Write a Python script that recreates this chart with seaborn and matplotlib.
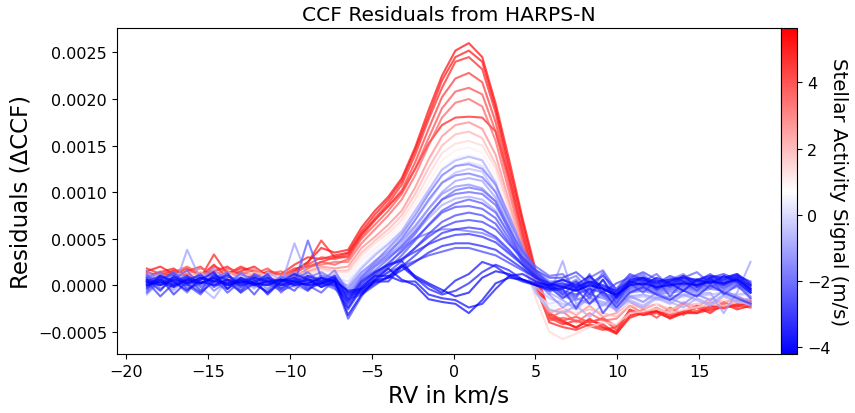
import numpy as np
import pandas as pd
import matplotlib
matplotlib.use("Agg")
import matplotlib.pyplot as plt
import seaborn as sns

# RV grid of the CCF (km/s)
rv = [-18.75, -17.93, -17.11, -16.29, -15.47, -14.65, -13.83, -13.01, -12.19, -11.37,
      -10.55, -9.73, -8.91, -8.09, -7.27, -6.45, -5.63, -4.81, -3.99, -3.17,
      -2.35, -1.53, -0.71, 0.11, 0.93, 1.75, 2.57, 3.39, 4.21, 5.03,
      5.85, 6.67, 7.49, 8.31, 9.13, 9.95, 10.77, 11.59, 12.41, 13.23,
      14.05, 14.87, 15.69, 16.51, 17.33, 18.15]

# stellar activity signal of each observation (m/s)
activity = [5.5, 5.3, 5.0, 4.6, 4.2, 3.8, 5.1, 3.0, 2.2, 1.5, 1.0, 0.5,
            0.0, -0.6, -1.2, -1.8, -2.2, -2.6, -3.0, -3.3, -3.6, -3.9, -4.1, -4.2,
            -2.0, -2.4, -2.8, -3.1, -3.4, -1.5, -0.9, -3.7, -4.0, -2.0, -2.9, -1.0]

# CCF residuals, in units of 1e-5
res_a = [15, 20, 12, 18, 10, 22, 8, 15, 20, 10, 5, 15, 25, 40, 35,
         38, 62, 80, 95, 115, 148, 188, 225, 252, 260, 245, 195, 135, 72, 15, -30,
         -38, -46, -36, -45, -50, -26, -32, -28, -36, -30, -24, -30, -20, -26, -22]
res_b = [10, 14, 18, 8, 12, 15, 20, 10, 8, 15, 12, 22, 30, 28, 32,
         35, 58, 76, 92, 112, 145, 182, 220, 245, 252, 240, 190, 128, 68, 10, -32,
         -40, -45, -38, -42, -52, -35, -30, -28, -34, -30, -30, -26, -24, -22, -18]
res_c = [18, 12, 10, 15, 20, 8, 12, 18, 15, 8, 10, 18, 20, 25, 30,
         30, 55, 72, 88, 108, 140, 178, 212, 240, 245, 232, 185, 122, 62, 5, -35,
         -42, -38, -44, -48, -45, -28, -32, -30, -35, -28, -30, -22, -25, -20, -22]
res_d = [5, 12, 15, 10, 8, 20, 15, 10, 12, 18, 8, 12, 22, 30, 28,
         32, 52, 70, 85, 102, 132, 168, 202, 222, 228, 218, 175, 115, 55, 0, -35,
         -38, -34, -40, -36, -48, -34, -26, -35, -24, -32, -22, -28, -18, -24, -16]
res_e = [12, 8, 14, 20, 12, 10, 18, 14, 10, 12, 15, 8, 18, 25, 22,
         28, 50, 65, 80, 98, 125, 158, 190, 208, 212, 205, 165, 108, 50, -2, -38,
         -35, -38, -40, -35, -44, -28, -30, -25, -30, -28, -22, -25, -22, -18, -20]
res_f = [8, 15, 10, 12, 18, 14, 8, 12, 16, 10, 12, 14, 20, 22, 25,
         25, 45, 60, 75, 92, 118, 150, 180, 196, 200, 192, 155, 100, 45, -5, -35,
         -28, -40, -30, -38, -36, -22, -30, -24, -32, -20, -28, -18, -24, -16, -20]
res_g = [14, 10, 16, 12, 8, 33, 12, 20, 14, 12, 8, 16, 24, 48, 30,
         34, 55, 70, 85, 100, 125, 152, 172, 180, 181, 180, 165, 115, 55, 0, -40,
         -45, -48, -42, -46, -52, -32, -30, -28, -32, -30, -28, -24, -20, -22, -24]
res_h = [10, 5, 12, 8, 14, 10, 6, 12, 18, 8, 10, 12, 15, 20, 18,
         20, 40, 52, 65, 80, 105, 135, 160, 172, 175, 168, 140, 90, 40, -5, -30,
         -24, -32, -22, -34, -30, -18, -26, -20, -28, -18, -24, -14, -20, -12, -18]
res_i = [8, 12, 6, 10, 12, 8, 14, 10, 12, 6, 8, 12, 14, 18, 15,
         16, 35, 48, 60, 75, 98, 126, 150, 162, 165, 158, 130, 85, 35, -8, -28,
         -28, -30, -26, -30, -34, -22, -24, -20, -26, -22, -20, -18, -16, -18, -14]
res_j = [12, 6, 10, 14, 8, 12, 10, 8, 14, 10, 6, 10, 12, 16, 14,
         14, 32, 45, 56, 70, 92, 118, 142, 152, 155, 150, 125, 80, 30, -15, -50,
         -58, -52, -45, -40, -42, -30, -28, -25, -30, -26, -24, -20, -22, -18, -20]
res_k = [5, 10, 8, 4, 12, 6, 10, 8, 6, 12, 8, 6, 10, 14, 12,
         10, 28, 40, 52, 66, 86, 110, 134, 145, 148, 142, 118, 75, 28, -10, -25,
         -20, -30, -16, -26, -24, -14, -20, -12, -22, -14, -18, -10, -16, -8, -14]
res_l = [6, 2, 10, 8, 4, 10, 12, 6, 4, 8, 10, 6, 8, 12, 10,
         8, 25, 38, 48, 62, 82, 104, 126, 137, 140, 135, 112, 70, 25, -10, -22,
         -24, -26, -20, -24, -28, -18, -16, -20, -18, -16, -15, -14, -12, -10, -12]
res_m = [4, 8, 2, 6, 10, 4, 6, 10, 2, 6, 4, 8, 6, 10, 8,
         4, 20, 34, 45, 58, 78, 98, 118, 128, 132, 128, 106, 66, 22, -10, -20,
         -16, -26, -12, -22, -20, -10, -18, -8, -16, -12, -10, -16, -6, -12, -8]
res_n = [2, 6, 0, 4, 8, 2, 4, 6, 0, 4, 2, 6, 4, 8, 6,
         -5, 12, 26, 38, 52, 70, 90, 110, 121, 125, 122, 100, 62, 24, -2, -14,
         -20, -22, -16, -20, -24, -14, -12, -16, -14, -12, -12, -10, -8, -10, -8]
res_o = [0, 4, -4, 38, 6, 2, 0, 4, -2, 2, 0, 45, 8, 6, 4,
         -12, 5, 20, 32, 45, 62, 82, 100, 112, 115, 112, 94, 62, 28, 4, -10,
         26, -20, -14, -18, -22, -12, -10, -14, -12, -10, -10, -8, -30, -8, 25]
res_p = [6, 2, 8, 4, 0, 6, 10, 4, 2, 8, 4, 2, 6, 4, 2,
         -15, 8, 25, 40, 55, 75, 98, 118, 128, 130, 125, 108, 75, 40, 15, 0,
         -12, -16, -10, -14, -20, -8, -6, -10, -8, -6, -8, -4, -6, -2, -8]
res_q = [10, 4, 8, 2, 6, 12, 4, 0, 6, 2, 8, 4, 0, 10, 8,
         -20, -2, 12, 22, 38, 55, 75, 92, 102, 105, 102, 90, 62, 34, 14, 2,
         -10, -14, 8, -12, -18, -6, -4, -8, -6, -4, -6, -2, -4, 0, -6]
res_r = [2, 8, 0, 6, 10, 0, 4, 8, 2, 0, 6, 2, 48, 8, 4,
         -8, -5, 8, 18, 32, 48, 65, 80, 88, 92, 88, 78, 55, 30, 12, 0,
         -8, -12, 12, -10, -16, -4, -2, -6, -4, -2, -4, 0, -2, 2, -8]
res_s = [8, 0, 4, 10, 2, 6, 0, 4, 8, 2, 4, 8, 2, 0, 6,
         -12, -8, 4, 14, 26, 40, 55, 68, 75, 78, 75, 66, 46, 26, 10, -2,
         -6, -10, -4, -8, -14, -2, 0, -4, -2, 0, -2, 2, 0, 4, -6]
res_t = [4, 10, 2, 0, 8, 4, 10, 2, 0, 6, 2, 4, 10, 6, 2,
         -15, -10, 0, 10, 20, 32, 45, 56, 60, 62, 60, 52, 38, 22, 8, -4,
         -4, -25, -2, -30, -12, 0, 2, -2, 0, 2, 0, 4, 2, 6, -4]
res_u = [6, 2, 8, 4, 2, 10, 6, 0, 4, 8, 0, 6, 4, 2, 0,
         -10, -8, 2, 8, 16, 25, 35, 42, 45, 45, 42, 38, 28, 18, 8, 2,
         -2, -6, 0, -4, -10, 2, 4, 0, 2, 4, 2, 6, 4, 8, -2]
res_v = [2, 6, 0, 8, 4, 0, 6, 2, 8, 4, 0, 2, 6, 4, 8,
         -8, -6, 4, 4, 20, 8, 0, -8, 5, 12, 25, 20, 10, 4, 0, -2,
         0, -4, 2, -2, -8, 4, 6, 2, 4, 6, 4, 8, 6, 10, 0]
res_w = [4, 0, 6, 2, 8, 4, 2, 6, 0, 4, 6, 0, 2, 8, 4,
         -6, -4, 6, 18, 6, 0, -15, -18, -20, -30, -16, 2, 8, 6, 2, 0,
         2, -2, 4, 0, -6, 6, 8, 4, 6, 8, 6, 10, 8, 12, 2]
res_x = [0, 4, -2, 6, 2, 8, 0, 4, 2, 0, 6, 4, 0, 2, 6,
         -32, -10, 5, 8, 22, 10, 2, -5, -12, -8, 8, 15, 12, 6, 0, -4,
         -2, -6, 0, -4, -10, 0, 2, -2, 0, 2, 0, 4, 2, 6, -4]
res_y = [-6, 12, 4, -8, 10, 2, -4, 14, 0, -6, 8, 12, -2, 4, 16,
         -8, 10, 22, 34, 50, 70, 92, 110, 118, 120, 116, 100, 70, 38, 16, 4,
         4, 10, -6, 14, -12, 6, 12, -2, 8, 0, 6, -4, 10, 2, -12]
res_z = [12, -4, 6, 16, -2, 8, 14, -6, 4, 10, -8, 6, 14, 2, -4,
         -14, 6, 16, 28, 42, 58, 76, 92, 98, 100, 98, 86, 60, 36, 20, 10,
         12, -4, 8, 16, -6, 10, 4, 12, -2, 8, 14, 2, 6, 12, -4]
res_aa = [-8, 6, 14, 0, -10, 8, 2, -6, 12, 4, -4, 10, 0, -8, 6,
          -20, 0, 12, 24, 36, 50, 64, 78, 84, 85, 82, 72, 50, 28, 14, 2,
          -10, 2, -14, 6, -20, 2, -8, 6, -12, 4, -6, 8, -10, 0, -14]
res_ab = [4, -12, 2, 10, -6, 12, -4, 6, -10, 8, 2, -6, 10, 4, -2,
          -26, -4, 10, 20, 28, 40, 52, 62, 68, 70, 68, 60, 44, 30, 16, 8,
          8, 14, 2, 10, -4, 12, 6, 2, 10, 4, 0, 8, 12, 6, 0]
res_ac = [-4, 8, -10, 4, 12, -2, 6, -8, 2, 12, -4, 4, -6, 8, 0,
          -18, 2, 14, 22, 28, 36, 44, 50, 54, 55, 52, 46, 34, 22, 10, -2,
          -14, -4, -20, -6, -24, -8, -2, -10, -16, -6, -12, 0, -8, -14, -20]
res_ad = [16, 2, 10, -4, 8, 18, 4, -8, 12, 6, -2, 14, 8, 0, 10,
          -4, 14, 26, 36, 48, 64, 82, 98, 106, 108, 104, 90, 58, 26, 6, -10,
          -24, -14, -20, -10, -28, -12, -18, -8, -14, -20, -10, -16, -6, -12, -18]
res_ae = [-10, 4, -6, 8, -2, -14, 6, -4, 2, -8, 10, 0, -6, 12, 4,
          0, 18, 32, 44, 58, 80, 102, 124, 134, 138, 134, 110, 68, 22, -8, -26,
          -30, -22, -34, -20, -26, -16, -22, -12, -18, -24, -14, -20, -10, -16, -22]
res_af = [6, -6, 10, 2, -8, 4, 12, -2, 6, -10, 4, 8, -4, 2, 10,
          -16, 4, 14, 22, 26, 8, -4, -10, -6, 2, 14, 22, 16, 6, 0, -6,
          -4, 4, -10, 6, -14, 2, 8, -4, 4, 10, -2, 6, 0, 8, -6]
res_ag = [-2, 10, 4, -6, 6, 14, -4, 8, 2, -8, 4, 12, 6, -2, 4,
          -24, -2, 10, 10, 4, 4, -10, -14, -16, -24, -20, -4, 10, 12, 4, 0,
          6, 0, 10, -4, -12, 4, 0, 8, 2, -6, 6, 2, 10, 4, -8]
res_ah = [8, 14, -2, 6, 10, -6, 4, 12, 6, -4, 10, 2, 8, 14, 6,
          -12, 8, 20, 30, 40, 50, 56, 60, 60, 58, 56, 50, 36, 24, 12, 2,
          -2, 6, -8, 12, -10, 4, 10, -6, 6, 12, 0, 8, -4, 6, 0]
res_ai = [0, 6, 12, -4, 2, 8, -8, 4, 10, 2, -6, 0, 8, -2, 4,
          -36, -12, 6, 14, 20, 26, 32, 36, 40, 40, 36, 32, 24, 16, 8, 2,
          6, -2, 4, -8, 2, 8, 14, 6, 0, 10, 4, 12, 2, 10, 4]
res_aj = [10, 0, 14, 6, -6, 10, 2, 8, -4, 14, 6, -2, 10, 4, 12,
          -2, 14, 24, 32, 42, 56, 72, 86, 93, 95, 92, 80, 54, 26, 8, -8,
          -16, -26, -12, -22, -8, -18, -24, -14, -20, -10, -16, -22, -12, -18, -14]

residuals = [res_a, res_b, res_c, res_d, res_e, res_f, res_g, res_h, res_i, res_j, res_k, res_l,
             res_m, res_n, res_o, res_p, res_q, res_r, res_s, res_t, res_u, res_v, res_w, res_x,
             res_y, res_z, res_aa, res_ab, res_ac, res_ad, res_ae, res_af, res_ag, res_ah,
             res_ai, res_aj]

rows = []
for k, (act, res) in enumerate(zip(activity, residuals)):
    assert len(res) == len(rv)
    for x, y in zip(rv, res):
        rows.append({'curve': k, 'rv': x, 'residual': y * 1e-5, 'activity': act})
df = pd.DataFrame(rows)

vmin, vmax = -4.2, 5.63
cmap = plt.get_cmap('bwr')
norm = matplotlib.colors.Normalize(vmin=vmin, vmax=vmax)

fig = plt.figure(figsize=(8.55, 4.14), dpi=100)
ax = fig.add_axes([0.1365, 0.1425, 0.7766, 0.7867])
cax = fig.add_axes([0.9131, 0.1425, 0.0194, 0.7867])

# red (high activity) first, blue drawn on top
order = sorted(range(len(activity)), key=lambda k: -activity[k])
for k in order:
    sub = df[df['curve'] == k]
    sns.lineplot(data=sub, x='rv', y='residual', ax=ax, color=cmap(norm(activity[k])),
                 alpha=0.7, lw=1.5, estimator=None, sort=False)

ax.set_title('CCF Residuals from HARPS-N', fontsize=14.6)
ax.set_xlabel('RV in km/s', fontsize=16.5)
ax.set_ylabel('Residuals (\u0394CCF)', fontsize=16.5)
ax.tick_params(labelsize=11.5)
ax.set_xticks([-20, -15, -10, -5, 0, 5, 10, 15])

sm = matplotlib.cm.ScalarMappable(norm=norm, cmap=cmap)
cb = fig.colorbar(sm, cax=cax)
cb.set_ticks([-4, -2, 0, 2, 4])
cb.ax.tick_params(labelsize=11.5)
cb.set_label('Stellar Activity Signal (m/s)', rotation=270, va='bottom', fontsize=14.2)
cb.ax.yaxis.set_label_coords(2.9, 0.5)

fig.savefig('out.png', dpi=100)
